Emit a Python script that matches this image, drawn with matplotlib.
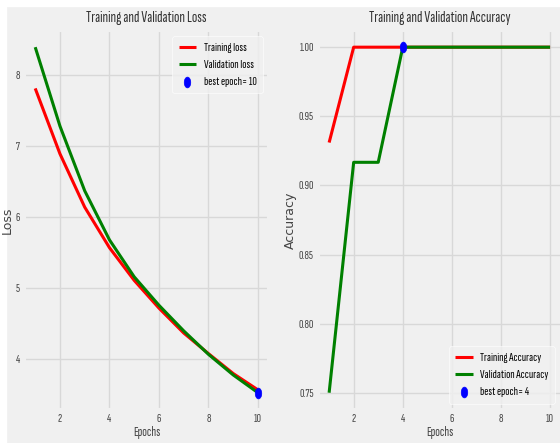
import matplotlib
matplotlib.use('Agg')
import matplotlib.pyplot as plt
import matplotlib.patches as patches
from matplotlib.path import Path
from matplotlib.transforms import Affine2D
from matplotlib.ticker import FormatStrFormatter

plt.style.use('fivethirtyeight')

# the reference text is squeezed sideways, so use a narrow face
narrow = ['Sofia Sans Extra Condensed', 'Fira Sans Extra Condensed', 'DejaVu Sans']
# squeezed dot marker too
oval = Path.unit_circle().transformed(Affine2D().scale(0.6, 1.0))

epochs = [1, 2, 3, 4, 5, 6, 7, 8, 9, 10]
train_loss = [7.81, 6.89, 6.14, 5.57, 5.11, 4.72, 4.37, 4.08, 3.80, 3.57]
val_loss = [8.39, 7.28, 6.37, 5.68, 5.16, 4.76, 4.40, 4.07, 3.78, 3.53]
train_acc = [0.931, 1.0, 1.0, 1.0, 1.0, 1.0, 1.0, 1.0, 1.0, 1.0]
val_acc = [0.75, 0.9167, 0.9167, 1.0, 1.0, 1.0, 1.0, 1.0, 1.0, 1.0]
best_loss_epoch = 10
best_acc_epoch = 4

fig = plt.figure(figsize=(5.6, 4.43), dpi=100, facecolor='white')
fig.patches.append(patches.Rectangle((7/560, 0), 1, 1 - 7/443, transform=fig.transFigure,
                                     color='#f0f0f0', zorder=-10))

ax1 = fig.add_axes([0.043, 0.0745, 0.4375, 0.858])
ax2 = fig.add_axes([0.568, 0.0745, 0.434, 0.858])


def style_axes(ax, title, ylabel, legend_loc):
    ax.set_facecolor('#f0f0f0')
    ax.grid(True, color='#d8d8d8', lw=1)
    ax.set_title(title, family=narrow, size=11.5, color='#333333', pad=6)
    ax.set_xlabel('Epochs', family=narrow, size=10, color='#444444', labelpad=1)
    ax.set_ylabel(ylabel, size=9, color='#444444', labelpad=1)
    ax.tick_params(labelsize=9, pad=3)
    ax.set_xticks([2, 4, 6, 8, 10])
    for lab in ax.get_xticklabels() + ax.get_yticklabels():
        lab.set_fontfamily(narrow)
        lab.set_color('#444444')
    leg = ax.legend(prop=dict(family=narrow, size=9), loc=legend_loc, handlelength=1.4,
                    labelspacing=0.5, borderpad=0.5, handletextpad=0.6, frameon=True)
    leg.get_frame().set_facecolor('#f0f0f0')
    leg.get_frame().set_edgecolor('#ffffff')


# loss
ax1.plot(epochs, train_loss, 'r', lw=2.2, label='Training loss')
ax1.plot(epochs, val_loss, 'g', lw=2.2, label='Validation loss')
ax1.scatter(best_loss_epoch, val_loss[best_loss_epoch - 1], s=60, c='blue', marker=oval,
            label='best epoch= ' + str(best_loss_epoch), zorder=5)
ax1.set_yticks([4, 5, 6, 7, 8])
style_axes(ax1, 'Training and Validation Loss', 'Loss', 'upper right')

# accuracy
ax2.plot(epochs, train_acc, 'r', lw=2.2, label='Training Accuracy')
ax2.plot(epochs, val_acc, 'g', lw=2.2, label='Validation Accuracy')
ax2.scatter(best_acc_epoch, val_acc[best_acc_epoch - 1], s=60, c='blue', marker=oval,
            label='best epoch= ' + str(best_acc_epoch), zorder=5)
ax2.set_yticks([0.75, 0.80, 0.85, 0.90, 0.95, 1.00])
ax2.yaxis.set_major_formatter(FormatStrFormatter('%.2f'))
style_axes(ax2, 'Training and Validation Accuracy', 'Accuracy', 'lower right')

fig.savefig('out.png', dpi=100, facecolor=fig.get_facecolor())
